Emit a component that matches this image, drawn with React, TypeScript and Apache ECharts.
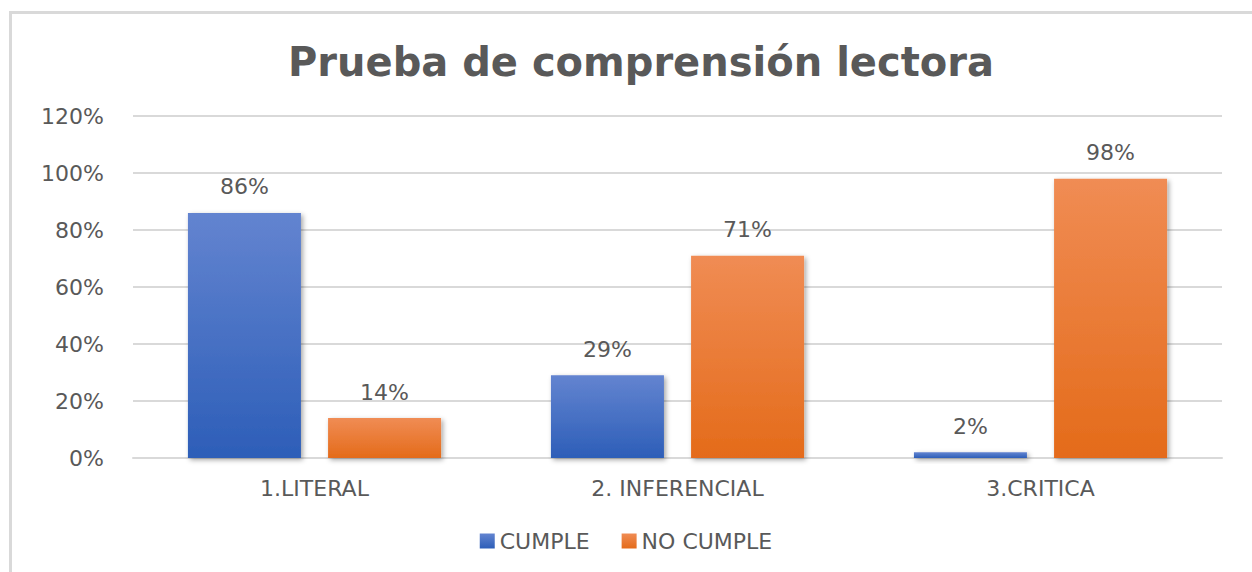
import React, { useEffect, useRef } from "react";
import * as echarts from "echarts";

const categories = ["1.LITERAL", "2. INFERENCIAL", "3.CRITICA"];
const cumple = [86, 29, 2];
const noCumple = [14, 71, 98];
const yTicks = { min: 0, max: 120, interval: 20 };
const titleText = "Prueba de comprensión lectora";
const seriesNames = ["CUMPLE", "NO CUMPLE"];

const FONT = "'DejaVu Sans', 'Noto Sans', sans-serif";
const TEXT = "#595959";

export default function App() {
  const ref = useRef<HTMLDivElement>(null);
  useEffect(() => {
    document.body.style.margin = "0";
    const chart = echarts.init(ref.current!, null, { renderer: "svg" });
    const blue = new echarts.graphic.LinearGradient(0, 0, 0, 1, [
      { offset: 0, color: "#6384d0" },
      { offset: 1, color: "#2d5eb8" },
    ]);
    const orange = new echarts.graphic.LinearGradient(0, 0, 0, 1, [
      { offset: 0, color: "#f08c54" },
      { offset: 1, color: "#e46b1a" },
    ]);
    const shadow = {
      shadowColor: "rgba(0,0,0,0.35)",
      shadowBlur: 5,
      shadowOffsetX: 2,
      shadowOffsetY: 2,
    };
    const label = {
      show: true,
      position: "top",
      distance: 15,
      formatter: "{c}%",
      color: TEXT,
      fontFamily: FONT,
      fontSize: 22,
    };
    chart.setOption({
      animation: false,
      backgroundColor: "#ffffff",
      graphic: [
        {
          type: "rect",
          shape: { x: 10.5, y: 12.5, width: 1300, height: 600 },
          style: { fill: "none", stroke: "#d9d9d9", lineWidth: 3 },
          silent: true,
        },
      ],
      title: {
        text: titleText,
        left: 636,
        textAlign: "center",
        top: 37,
        textStyle: {
          color: TEXT,
          fontFamily: FONT,
          fontWeight: "bold",
          fontSize: 40,
        },
      },
      legend: {
        data: seriesNames,
        top: 525,
        left: "center",
        itemWidth: 15,
        itemHeight: 15,
        itemGap: 32,
        icon: "rect",
        textStyle: { color: TEXT, fontFamily: FONT, fontSize: 22 },
      },
      grid: { left: 133, right: 30, top: 116, bottom: 114, containLabel: false },
      xAxis: {
        type: "category",
        data: categories,
        axisTick: { show: false },
        axisLine: { lineStyle: { color: "#d9d9d9", width: 2 } },
        axisLabel: { color: TEXT, fontFamily: FONT, fontSize: 22, margin: 19 },
      },
      yAxis: {
        type: "value",
        min: yTicks.min,
        max: yTicks.max,
        interval: yTicks.interval,
        axisLine: { show: false },
        axisTick: { show: false },
        splitLine: { lineStyle: { color: "#d9d9d9", width: 2 } },
        axisLabel: {
          formatter: "{value}%",
          color: TEXT,
          fontFamily: FONT,
          fontSize: 22,
          margin: 29,
        },
      },
      series: [
        {
          name: seriesNames[0],
          type: "bar",
          data: cumple,
          barWidth: 113,
          barGap: "24%",
          itemStyle: { color: blue, ...shadow },
          label,
        },
        {
          name: seriesNames[1],
          type: "bar",
          data: noCumple,
          barWidth: 113,
          barGap: "24%",
          itemStyle: { color: orange, ...shadow },
          label,
        },
      ],
    });
    return () => chart.dispose();
  }, []);
  return (
    <div
      ref={ref}
      style={{ position: "fixed", left: 0, top: 0, width: 1252, height: 572 }}
    />
  );
}
